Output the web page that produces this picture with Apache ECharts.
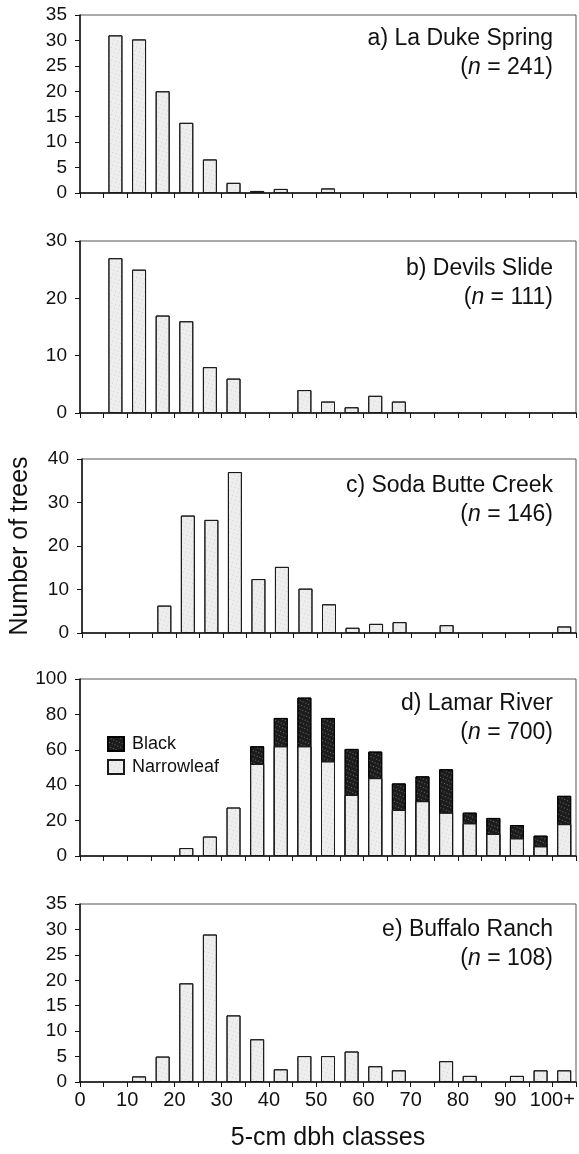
<!DOCTYPE html>
<html>
<head>
<meta charset="utf-8">
<script src="https://cdn.jsdelivr.net/npm/echarts@6/dist/echarts.min.js"></script>
<style>
  body { margin: 0; background: #fff; }
  #chart { width: 579px; height: 1154px; }
</style>
</head>
<body>
<div id="chart"></div>
<script>
// 5-cm dbh classes (lower bound of each class), last one is "100+"
const classLower = [0, 5, 10, 15, 20, 25, 30, 35, 40, 45, 50, 55, 60, 65, 70, 75, 80, 85, 90, 95, 100];
const xTickLabels = ['0', '10', '20', '30', '40', '50', '60', '70', '80', '90', '100+'];

const siteNames = ['a) La Duke Spring', 'b) Devils Slide', 'c) Soda Butte Creek', 'd) Lamar River', 'e) Buffalo Ranch'];
const siteN = [241, 111, 146, 700, 108];

const laDuke = [0, 31, 30.2, 20, 13.8, 6.6, 2, 0.4, 0.8, 0, 0.9, 0, 0, 0, 0, 0, 0, 0, 0, 0, 0];
const devilsSlide = [0, 27, 25, 17, 16, 8, 6, 0, 0, 4, 2, 1, 3, 2, 0, 0, 0, 0, 0, 0, 0];
const sodaButte = [0, 0, 0, 6.3, 27, 26, 37, 12.4, 15.2, 10.2, 6.6, 1.2, 2.1, 2.5, 0, 1.8, 0, 0, 0, 0, 1.5];
const lamarNarrowleaf = [0, 0, 0, 0, 4.5, 11, 27.4, 52, 62, 62, 53.5, 34.5, 44, 26, 31, 24.5, 18.5, 12.5, 10, 5.5, 18];
const lamarBlack = [0, 0, 0, 0, 0, 0, 0, 10, 16, 27.5, 24.5, 26, 15, 15, 14, 24.5, 6, 9, 7.5, 6, 16];
const buffaloRanch = [0, 0, 1.1, 5, 19.4, 29, 13.1, 8.4, 2.5, 5.1, 5.1, 6, 3.1, 2.3, 0, 4.1, 1.2, 0, 1.2, 2.3, 2.3];

const yMax = [35, 30, 40, 100, 35];
const yInterval = [5, 10, 10, 20, 5];

// layout
const panelTop = [15, 241, 459, 679, 904];
const panelHeight = [178, 172, 174, 177, 178];
const titleOffset = [9, 13, 12, 10, 11];
const font = '"Liberation Sans", Arial, Helvetica, sans-serif';

const chart = echarts.init(document.getElementById('chart'), null, { renderer: 'canvas' });

function toPoints(values) {
  const pts = [];
  values.forEach(function(v, i) {
    if (v > 0) pts.push([classLower[i] + 2.5, v]);
  });
  return pts;
}

const lightStyle = {
  color: '#eeeeee',
  borderColor: '#1a1a1a',
  borderWidth: 1,
  decal: {
    symbol: 'rect',
    symbolSize: 1,
    color: 'rgba(0,0,0,0.13)',
    dashArrayX: [1, 3],
    dashArrayY: [1, 3],
    rotation: 0.3
  }
};
const darkStyle = {
  color: '#1c1c1c',
  borderColor: '#000',
  borderWidth: 1,
  decal: {
    symbol: 'rect',
    symbolSize: 1,
    color: 'rgba(255,255,255,0.35)',
    dashArrayX: [1, 2],
    dashArrayY: [1, 3],
    rotation: 0.4
  }
};

const grids = [];
const xAxes = [];
const yAxes = [];
panelTop.forEach(function(top, k) {
  grids.push({
    left: 80,
    right: 3,
    top: top,
    height: panelHeight[k],
    show: true,
    borderColor: '#555',
    borderWidth: 1
  });
  const last = k === panelTop.length - 1;
  xAxes.push({
    gridIndex: k,
    type: 'value',
    min: 0,
    max: 105,
    interval: 5,
    splitLine: { show: false },
    axisLine: { lineStyle: { color: '#111', width: 1.5 } },
    axisTick: { show: true, length: 5, lineStyle: { color: '#111' } },
    axisLabel: {
      show: last,
      margin: 8,
      fontSize: 20,
      fontFamily: font,
      color: '#111',
      formatter: function(v) {
        return (v % 10 === 0 && v <= 100) ? xTickLabels[v / 10] : '';
      }
    },
    name: last ? '5-cm dbh classes' : '',
    nameLocation: 'middle',
    nameGap: 44,
    nameTextStyle: { fontSize: 25, fontFamily: font, color: '#111' }
  });
  yAxes.push({
    gridIndex: k,
    type: 'value',
    min: 0,
    max: yMax[k],
    interval: yInterval[k],
    splitLine: { show: false },
    axisLine: { show: true, lineStyle: { color: '#111', width: 1.5 } },
    axisTick: { show: true, length: 5, lineStyle: { color: '#111' } },
    axisLabel: { margin: 13, fontSize: 19, fontFamily: font, color: '#111' },
    name: k === 2 ? 'Number of trees' : '',
    nameLocation: 'middle',
    nameGap: 49,
    nameTextStyle: { fontSize: 25, fontFamily: font, color: '#111' }
  });
});

const singleSeries = [laDuke, devilsSlide, sodaButte, null, buffaloRanch];
const series = [];
singleSeries.forEach(function(vals, k) {
  if (!vals) return;
  series.push({
    name: siteNames[k],
    type: 'bar',
    xAxisIndex: k,
    yAxisIndex: k,
    barWidth: 14,
    itemStyle: lightStyle,
    data: toPoints(vals)
  });
});
// Lamar River: black part sits on top of narrowleaf, so draw the full
// column in the dark style and lay the narrowleaf part over its lower end
series.push({
  name: 'Black',
  type: 'bar',
  xAxisIndex: 3,
  yAxisIndex: 3,
  barWidth: 14,
  barGap: '-100%',
  itemStyle: darkStyle,
  data: toPoints(lamarBlack.map(function(v, i) { return v > 0 ? v + lamarNarrowleaf[i] : 0; }))
});
series.push({
  name: 'Narrowleaf',
  type: 'bar',
  xAxisIndex: 3,
  yAxisIndex: 3,
  barWidth: 14,
  barGap: '-100%',
  itemStyle: lightStyle,
  data: toPoints(lamarNarrowleaf)
});

const titles = panelTop.map(function(top, k) {
  return {
    type: 'text',
    x: 553,
    y: top + titleOffset[k],
    style: {
      text: siteNames[k] + '\n({i|n} = ' + siteN[k] + ')',
      fontSize: 23,
      fontFamily: font,
      fill: '#111',
      align: 'right',
      verticalAlign: 'top',
      lineHeight: 29,
      rich: {
        i: { fontStyle: 'italic', fontSize: 23, fontFamily: font, fill: '#111', lineHeight: 29 }
      }
    }
  };
});

chart.setOption({
  animation: false,
  backgroundColor: '#fff',
  grid: grids,
  xAxis: xAxes,
  yAxis: yAxes,
  legend: {
    data: ['Black', 'Narrowleaf'],
    orient: 'vertical',
    left: 107,
    top: 735,
    padding: 0,
    itemWidth: 16,
    itemHeight: 14,
    itemGap: 5,
    icon: 'rect',
    selectedMode: false,
    textStyle: { fontSize: 18, fontFamily: font, color: '#111', padding: [0, 0, 0, 3] }
  },
  graphic: titles,
  series: series
});
</script>
</body>
</html>
